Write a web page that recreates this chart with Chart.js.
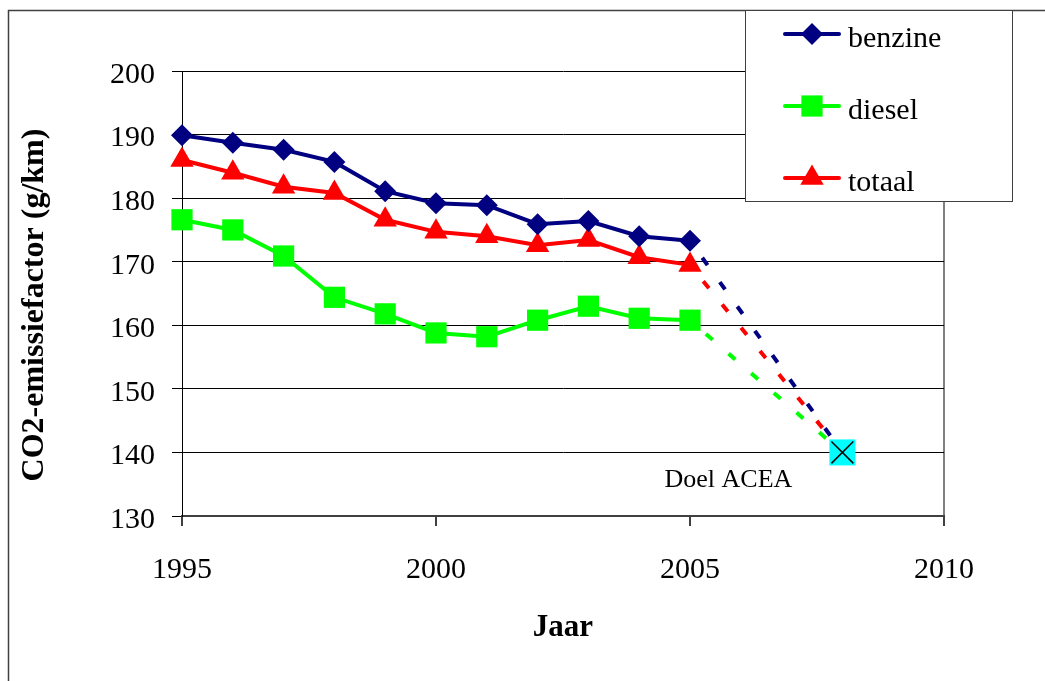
<!DOCTYPE html>
<html>
<head>
<meta charset="utf-8">
<title>CO2-emissiefactor</title>
<script src="https://cdn.jsdelivr.net/npm/chart.js@4/dist/chart.umd.min.js"></script>
<style>
  html, body { margin: 0; padding: 0; background: #fff; }
  #wrap { width: 1045px; height: 681px; }
</style>
</head>
<body>
<div id="wrap"><canvas id="chartCo2" width="1045" height="681"></canvas></div>
<script>
// data
const years = [1995, 1996, 1997, 1998, 1999, 2000, 2001, 2002, 2003, 2004, 2005];
const benzine = [189.9, 188.7, 187.6, 185.7, 181.1, 179.2, 178.9, 175.9, 176.4, 174.0, 173.3];
const diesel = [176.6, 175.0, 170.9, 164.4, 161.8, 158.8, 158.2, 160.8, 163.0, 161.1, 160.8];
const totaal = [186.0, 184.0, 181.8, 180.8, 176.6, 174.7, 174.0, 172.6, 173.4, 170.7, 169.5];
const targetYear = 2008;
const targetValue = 140;
const targetLabel = "Doel ACEA";
const yTitle = "CO2-emissiefactor (g/km)";
const xTicks = [1995, 2000, 2005, 2010];
const yTicks = [130, 140, 150, 160, 170, 180, 190, 200];

const serif = "'Liberation Serif', 'Times New Roman', serif";
const navy = "#000080", green = "#00ff00", red = "#ff0000";

const series = [
    { label: "benzine", values: benzine, color: navy, style: "rectRot", radius: 11 },
    { label: "diesel", values: diesel, color: green, style: "rect", radius: 15 },
    { label: "totaal", values: totaal, color: red, style: "triangle", radius: 13.5 }
];

function toPoints(values) {
    return years.map((x, i) => ({ x: x, y: values[i] }));
}

const datasets = [];
series.forEach(s => {
    datasets.push({
        label: s.label,
        data: toPoints(s.values),
        borderColor: s.color,
        backgroundColor: s.color,
        borderWidth: 4,
        pointStyle: s.style,
        pointRadius: s.radius,
        pointBorderWidth: 0,
        pointBackgroundColor: s.color,
        tension: 0,
        clip: false
    });
});
// dashed projection towards the ACEA target
series.forEach(s => {
    datasets.push({
        label: s.label + " trend",
        data: [{ x: years[years.length - 1], y: s.values[s.values.length - 1] }, { x: targetYear, y: targetValue }],
        borderColor: s.color,
        borderWidth: 4,
        borderDash: [9, 21],
        borderDashOffset: 9,
        pointRadius: 0,
        order: 5
    });
});
// target marker: cyan square with a black cross
datasets.push({
    label: "doel",
    data: [{ x: targetYear, y: targetValue }],
    pointStyle: "rect",
    pointRadius: 18.4,
    pointBackgroundColor: "#00ffff",
    pointBorderWidth: 0,
    showLine: false,
    order: -1
});
datasets.push({
    label: "doel x",
    data: [{ x: targetYear, y: targetValue }],
    pointStyle: "crossRot",
    pointRadius: 15.5,
    pointBorderColor: "#000",
    pointBorderWidth: 1.5,
    showLine: false,
    order: -2
});

const framePlugin = {
    id: "frame",
    beforeDraw(chart) {
        const ctx = chart.ctx;
        ctx.save();
        ctx.fillStyle = "#fff";
        ctx.fillRect(0, 0, chart.width, chart.height);
        ctx.strokeStyle = "#404040";
        ctx.lineWidth = 1.5;
        ctx.strokeRect(8.5, 10.5, chart.width + 20, chart.height + 20);
        ctx.restore();
    },
    afterDraw(chart) {
        const ctx = chart.ctx;
        const xs = chart.scales.x, ys = chart.scales.y;
        ctx.save();
        // y axis title
        ctx.fillStyle = "#000";
        ctx.translate(35, 305);
        ctx.rotate(-Math.PI / 2);
        ctx.font = "bold 32px " + serif;
        ctx.textAlign = "center";
        ctx.textBaseline = "middle";
        ctx.fillText(yTitle, 0, 0);
        ctx.restore();

        ctx.save();
        // target label
        ctx.fillStyle = "#000";
        ctx.font = "26px " + serif;
        ctx.textAlign = "center";
        ctx.textBaseline = "middle";
        ctx.fillText(targetLabel, xs.getPixelForValue(targetYear) - 114, ys.getPixelForValue(targetValue) + 28);

        // legend box
        const bx = 745, by = 10, bw = 267, bh = 191;
        ctx.fillStyle = "#fff";
        ctx.fillRect(bx, by, bw, bh);
        ctx.strokeStyle = "#404040";
        ctx.lineWidth = 1;
        ctx.strokeRect(bx + 0.5, by + 0.5, bw, bh);
        series.forEach((s, i) => {
            const y = 34 + i * 72;
            ctx.strokeStyle = s.color;
            ctx.lineWidth = 4;
            ctx.lineCap = "round";
            ctx.beginPath();
            ctx.moveTo(785, y);
            ctx.lineTo(839, y);
            ctx.stroke();
            ctx.fillStyle = s.color;
            Chart.helpers.drawPoint(ctx, { pointStyle: s.style, radius: s.radius, rotation: 0, borderWidth: 0 }, 812, y);
            ctx.fillStyle = "#000";
            ctx.font = "30px " + serif;
            ctx.textAlign = "left";
            ctx.textBaseline = "middle";
            ctx.fillText(s.label, 848, y + 5);
        });
        ctx.restore();
    }
};

const chart = new Chart(document.getElementById("chartCo2").getContext("2d"), {
    type: "line",
    data: { datasets: datasets },
    plugins: [framePlugin],
    options: {
        responsive: false,
        animation: false,
        events: [],
        layout: { padding: { left: 10, top: 71, right: 101, bottom: 0 } },
        plugins: {
            legend: { display: false },
            tooltip: { enabled: false }
        },
        scales: {
            x: {
                type: "linear",
                min: 1995,
                max: 2010,
                afterBuildTicks: s => { s.ticks = xTicks.map(v => ({ value: v })); },
                afterFit: s => { s.height = 165; },
                ticks: {
                    color: "#000",
                    font: { family: serif, size: 30 },
                    padding: 26,
                    maxRotation: 0,
                    callback: v => String(v)
                },
                grid: {
                    color: c => (c.tick && c.tick.value === 2010) ? "#808080" : "rgba(0,0,0,0)",
                    lineWidth: 2,
                    tickColor: "#404040",
                    tickLength: 10
                },
                border: { color: "#404040", width: 2 },
                title: {
                    display: true,
                    text: "Jaar",
                    color: "#000",
                    font: { family: serif, size: 31, weight: "bold" },
                    padding: { top: 0, bottom: 34 }
                }
            },
            y: {
                min: 130,
                max: 200,
                afterBuildTicks: s => { s.ticks = yTicks.map(v => ({ value: v })); },
                afterFit: s => { s.width = 172; },
                ticks: {
                    color: "#000",
                    font: { family: serif, size: 30 },
                    padding: 17,
                    labelOffset: 4
                },
                grid: {
                    color: "#000",
                    lineWidth: 1,
                    tickColor: "#000",
                    tickLength: 10
                },
                border: { color: "#000", width: 1 }
            }
        }
    }
});
</script>
</body>
</html>
